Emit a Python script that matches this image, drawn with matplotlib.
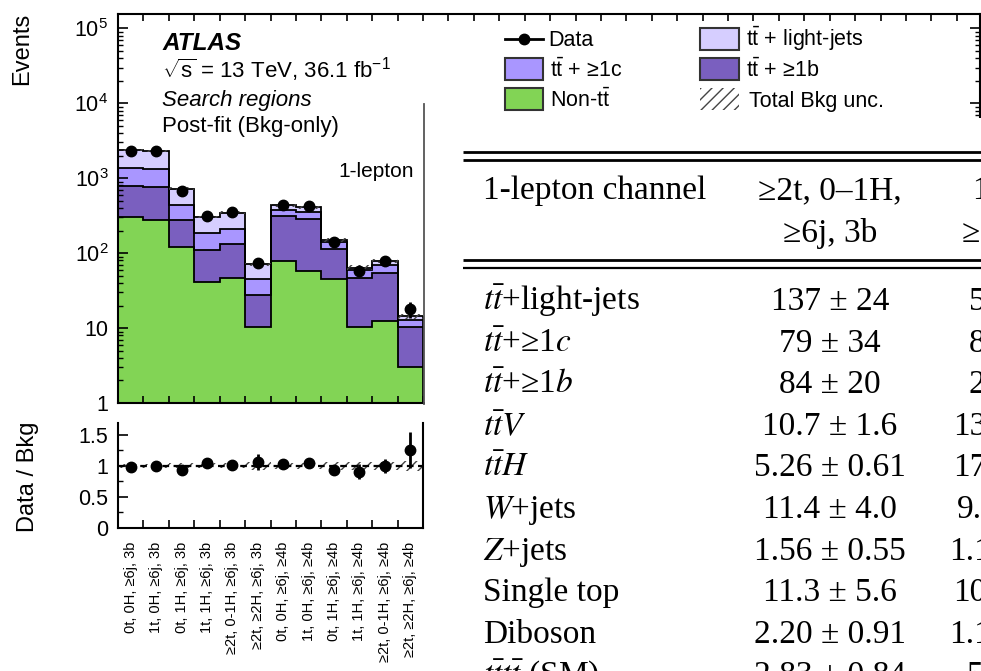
import numpy as np
import matplotlib
matplotlib.use("Agg")
import matplotlib.pyplot as plt
from matplotlib.patches import Rectangle
from matplotlib.ticker import FixedLocator, NullFormatter, LogLocator, MultipleLocator

plt.rcParams['font.family'] = ['Liberation Sans', 'DejaVu Sans']
plt.rcParams['mathtext.fontset'] = 'custom'
plt.rcParams['mathtext.rm'] = 'Liberation Sans'
plt.rcParams['mathtext.it'] = 'Liberation Sans:italic'
plt.rcParams['mathtext.bf'] = 'Liberation Sans:bold'
plt.rcParams['hatch.linewidth'] = 1.0

# ---------------- data ----------------
region_labels = ["0t, 0H, ≥6j, 3b", "1t, 0H, ≥6j, 3b", "0t, 1H, ≥6j, 3b", "1t, 1H, ≥6j, 3b",
                 "≥2t, 0-1H, ≥6j, 3b", "≥2t, ≥2H, ≥6j, 3b",
                 "0t, 0H, ≥6j, ≥4b", "1t, 0H, ≥6j, ≥4b", "0t, 1H, ≥6j, ≥4b", "1t, 1H, ≥6j, ≥4b",
                 "≥2t, 0-1H, ≥6j, ≥4b", "≥2t, ≥2H, ≥6j, ≥4b"]
non_tt = [300, 280, 119, 40.6, 47, 10.3, 77.5, 57, 45, 10.2, 12.6, 3.06]
tt_1b = [480, 485, 161, 68.4, 84, 17.5, 232, 228, 67, 35.8, 42.4, 7.24]
tt_1c = [592, 565, 154, 74, 79, 17.2, 65, 65, 28, 13, 15, 2.6]
tt_light = [988, 990, 292, 121, 137, 25.6, 60, 60, 12, 5, 9, 1.4]
data = [2300, 2300, 683, 318, 354, 75, 445, 426, 143, 58, 79, 18]
data_err = [48, 48, 26, 18, 19, 8.7, 21, 21, 12, 7.6, 8.9, 4.2]
bkg_unc = [0.03, 0.03, 0.04, 0.04, 0.04, 0.06, 0.05, 0.05, 0.06, 0.07, 0.07, 0.08]

legend_labels = ["Data", r"$\mathrm{t}\bar{\mathrm{t}}$ + light-jets", r"$\mathrm{t}\bar{\mathrm{t}}$ + ≥1c",
                 r"$\mathrm{t}\bar{\mathrm{t}}$ + ≥1b", r"Non-$\mathrm{t}\bar{\mathrm{t}}$", "Total Bkg unc."]

table_title = "1-lepton channel"
table_col1_head = ["≥2t, 0–1H,", "≥6j, 3b"]
table_col2_head = ["1", "≥"]
table_rows = [r"$t\bar{t}$+light-jets", r"$t\bar{t}$+≥1$c$", r"$t\bar{t}$+≥1$b$", r"$t\bar{t}V$",
              r"$t\bar{t}H$", r"$W$+jets", r"$Z$+jets", "Single top", "Diboson", r"$t\bar{t}t\bar{t}$ (SM)"]
table_col1 = ["137 ± 24", "79 ± 34", "84 ± 20", "10.7 ± 1.6", "5.26 ± 0.61", "11.4 ± 4.0",
              "1.56 ± 0.55", "11.3 ± 5.6", "2.20 ± 0.91", "2.83 ± 0.84"]
table_col2 = ["5", "8", "2", "13", "17", "9.", "1.1", "10", "1.1", "5."]

c_light = "#D6CEFF"
c_1c = "#A996FF"
c_1b = "#7A5FBF"
c_non = "#82D455"

# ---------------- figure ----------------
W, H = 981, 671
fig = plt.figure(figsize=(W / 100, H / 100), dpi=100)

def frac(x0, y0, x1, y1):
    return [x0 / W, (H - y1) / H, (x1 - x0) / W, (y1 - y0) / H]

n = len(region_labels)
edges = np.arange(n + 1)
centers = edges[:-1] + 0.5
bin_px = 305 / 12.0

ax = fig.add_axes(frac(118, 13.5, 980, 403))
ax.set_yscale('log')
ax.set_xlim(0, 862 / bin_px)
ax.set_ylim(1, 1.58e5)

s0 = np.array(non_tt)
s1 = s0 + np.array(tt_1b)
s2 = s1 + np.array(tt_1c)
s3 = s2 + np.array(tt_light)
base = np.full(n, 0.1)
for top, bot, col in [(s0, base, c_non), (s1, s0, c_1b), (s2, s1, c_1c), (s3, s2, c_light)]:
    ax.stairs(top, edges, baseline=bot, fill=True, color=col, lw=0, zorder=1)
for top in [s0, s1, s2, s3]:
    ax.stairs(top, edges, baseline=None, fill=False, color='black', lw=1.3, zorder=2)
ax.vlines(edges[-1], 1, s3[-1], color='black', lw=1.3, zorder=2)
unc = np.array(bkg_unc)
ax.stairs(s3 * (1 + unc), edges, baseline=s3 * (1 - unc), fill=True, facecolor='none',
          edgecolor='#444444', hatch='////', lw=0, zorder=3)
ax.errorbar(centers, data, yerr=data_err, fmt='o', color='black', ms=7.5, elinewidth=2,
            capsize=0, zorder=4)

ax.set_yticks([1, 10, 100, 1e3, 1e4, 1e5])
ax.set_yticklabels(['1', '10', '$10^{2}$', '$10^{3}$', '$10^{4}$', '$10^{5}$'], fontsize=15.5)
ax.yaxis.set_minor_locator(LogLocator(base=10, subs=np.arange(2, 10)))
ax.yaxis.set_minor_formatter(NullFormatter())
ax.set_xticks(np.arange(0, 34))
ax.set_xticklabels([])
ax.tick_params(axis='y', which='major', direction='in', length=7, width=1.2, left=True, right=True, pad=7)
ax.tick_params(axis='y', which='minor', direction='in', length=3.5, width=1.0, left=True, right=True)
ax.tick_params(axis='x', which='major', direction='in', length=5, width=1.2, top=True, bottom=True)
for sp in ax.spines.values():
    sp.set_linewidth(1.5)

# ratio panel
rx = fig.add_axes(frac(118, 423, 423, 528))
rx.set_xlim(0, n)
rx.set_ylim(0, 1.69)
ratio = np.array(data) / s3
ratio_err = np.array(data_err) / s3
rx.stairs(1 + unc, edges, baseline=1 - unc, fill=True, facecolor='none', edgecolor='#444444',
          hatch='///', lw=0, zorder=1)
rx.axhline(1, color='black', ls=(0, (3, 2)), lw=1.6, zorder=2)
rx.errorbar(centers, ratio, yerr=ratio_err, fmt='o', color='black', ms=7.5, elinewidth=2,
            capsize=0, zorder=3)
rx.spines['top'].set_visible(False)
for sp in ['left', 'bottom', 'right']:
    rx.spines[sp].set_linewidth(1.5)
rx.set_yticks([0, 0.5, 1, 1.5])
rx.set_yticklabels(['0', '0.5', '1', '1.5'], fontsize=15.5)
rx.yaxis.set_minor_locator(MultipleLocator(0.25))
rx.xaxis.set_major_locator(FixedLocator(edges))
rx.xaxis.set_major_formatter(NullFormatter())
rx.xaxis.set_minor_locator(FixedLocator(centers))
rx.set_xticklabels(region_labels, minor=True, rotation=90, fontsize=10.5)
rx.tick_params(axis='x', which='minor', length=0, pad=10)
rx.tick_params(axis='x', which='major', direction='in', length=5.5, width=1.2, top=False)
rx.tick_params(axis='y', which='major', direction='in', length=7, width=1.2, pad=7, right=False)
rx.tick_params(axis='y', which='minor', direction='in', length=3.5, width=1.0, right=False)

# ---------------- overlay (pixel coords) ----------------
ov = fig.add_axes([0, 0, 1, 1], zorder=10)
ov.set_xlim(0, W)
ov.set_ylim(H, 0)
ov.axis('off')
ov.patch.set_alpha(0)

ov.text(22.5, 13, "Events", rotation=90, ha='center', va='top', fontsize=17)
ov.text(28, 477, "Data / Bkg", rotation=90, ha='center', va='center', fontsize=17)

ov.text(162, 50, "ATLAS", fontsize=17.5, fontweight='bold', fontstyle='italic', va='baseline')
ov.text(162, 78, r"$\sqrt{\mathrm{s}}$ = 13 TeV, 36.1 fb$^{\mathrm{-1}}$", fontsize=16, va='baseline')
ov.text(162, 106, "Search regions", fontsize=16, fontstyle='italic', va='baseline')
ov.text(162, 132, "Post-fit (Bkg-only)", fontsize=16, va='baseline')
ov.text(338, 177, "1-lepton", fontsize=15, va='baseline')

# legend
lfs = 15.5
ov.plot([505, 543], [39, 39], color='black', lw=2)
ov.plot([524], [39], 'o', color='black', ms=7.5)
ov.text(548, 46, legend_labels[0], fontsize=lfs, va='baseline')
ov.add_patch(Rectangle((700, 28), 39, 22, facecolor=c_light, edgecolor='#333333', lw=1.5))
ov.text(746, 46, legend_labels[1], fontsize=lfs, va='baseline')
ov.add_patch(Rectangle((505, 58), 38, 22, facecolor=c_1c, edgecolor='#333333', lw=1.5))
ov.text(550, 77, legend_labels[2], fontsize=lfs, va='baseline')
ov.add_patch(Rectangle((700, 58), 39, 22, facecolor=c_1b, edgecolor='#333333', lw=1.5))
ov.text(746, 77, legend_labels[3], fontsize=lfs, va='baseline')
ov.add_patch(Rectangle((505, 88), 38, 22, facecolor=c_non, edgecolor='#333333', lw=1.5))
ov.text(550, 107, legend_labels[4], fontsize=lfs, va='baseline')
ov.add_patch(Rectangle((700, 88), 39, 22, facecolor='none', edgecolor='#444444', hatch='///', lw=0))
ov.text(749, 107, legend_labels[5], fontsize=lfs, va='baseline')

# table overlay
ov.add_patch(Rectangle((424.5, 118), W - 424, H - 118, facecolor='white', edgecolor='none'))
ov.plot([423.5, 423.5], [104, 404], color='#555555', lw=1.3)

for y, lw in [(151.5, 2.0), (159.5, 2.0), (259.5, 2.0), (267.5, 1.6)]:
    ov.plot([463, W], [y, y], color='black', lw=lw, solid_capstyle='butt')

tfs = 24
serif = ['Liberation Serif', 'DejaVu Serif']
ov.text(483, 199, table_title, fontsize=tfs, family=serif, va='baseline')
ov.text(830, 199, table_col1_head[0], fontsize=tfs, family=serif, va='baseline', ha='center')
ov.text(830, 242, table_col1_head[1], fontsize=tfs, family=serif, va='baseline', ha='center')
ov.text(972, 199, table_col2_head[0], fontsize=tfs, family=serif, va='baseline')
ov.text(962, 242, table_col2_head[1], fontsize=tfs, family=serif, va='baseline')

row_y = [310, 352, 393, 435, 476, 518, 560, 601, 643, 684]
col2_x = [969, 969, 969, 953, 953, 957, 949, 953, 949, 967]
for i, y in enumerate(row_y):
    ov.text(483, y, table_rows[i], fontsize=tfs, family=serif, math_fontfamily='stix', va='baseline')
    ov.text(830, y, table_col1[i], fontsize=tfs, family=serif, va='baseline', ha='center')
    ov.text(col2_x[i], y, table_col2[i], fontsize=tfs, family=serif, va='baseline')

fig.savefig("out.png", dpi=100)
